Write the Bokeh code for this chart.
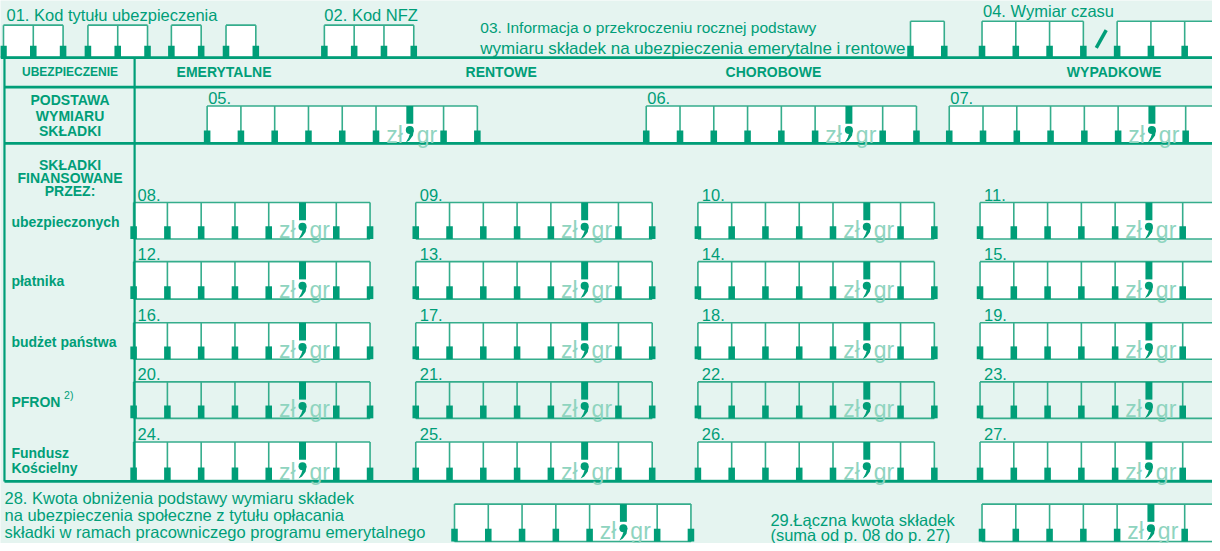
from bokeh.plotting import figure
from bokeh.models import Range1d
from bokeh.embed import file_html
from bokeh.resources import INLINE
from bokeh.core.properties import value

# ---------------- colours / font ----------------
BG = "#E5F4F0"
DARK = "#009E78"
LINE = "#35AD8C"
LIGHT = "#8FD4BF"
WHITE = "#FFFFFF"
FONT = "Liberation Sans"

# ---------------- form content ----------------
top_labels = ["01. Kod tytułu ubezpieczenia", "02. Kod NFZ", "04. Wymiar czasu"]
top_label_x = [6, 326, 989]
top_label_y = [15, 15, 11]
info_03 = ["03. Informacja o przekroczeniu rocznej podstawy",
           "wymiaru składek na ubezpieczenia emerytalne i rentowe"]
info_03_y = [27, 49]

top_group_x = [3, 88, 172, 227, 326, 916, 988, 1124]
top_group_cells = [2, 2, 1, 1, 3, 1, 3, 3]
top_group_cellw = [30, 30, 30, 30, 30, 34, 34, 34]
top_group_top = [25, 25, 25, 25, 25, 21, 21, 21]

column_headers = ["EMERYTALNE", "RENTOWE", "CHOROBOWE", "WYPADKOWE"]
column_header_x = [225, 504, 778, 1121]

basis_labels = ["05.", "06.", "07."]
basis_x = [208, 650, 955]

row_labels = ["ubezpieczonych", "płatnika", "budżet państwa", "PFRON", "Fundusz"]
row_label_y = [225, 285, 347, 407, 459]
grid_col_x = [134, 418, 702, 986]
grid_row_top = [205, 265, 327, 387, 448]
grid_row_bot = [242, 303, 364, 424, 487]
grid_row_white = [True, True, True, False, True]

text_28 = ["28. Kwota obniżenia podstawy wymiaru składek",
           "na ubezpieczenia społeczne z tytułu opłacania",
           "składki w ramach pracowniczego programu emerytalnego"]
text_28_y = [505, 522, 539]
text_29 = ["29.Łączna kwota składek", "(suma od p. 08 do p. 27)"]
text_29_y = [527, 542]
bottom_group_x = [457, 988]

CW = 34

# ---------------- figure ----------------
p = figure(width=1212, height=543, x_range=Range1d(0, 1220), y_range=Range1d(551, 0),
           output_backend="svg", toolbar_location=None, min_border=0,
           x_axis_location=None, y_axis_location=None)
p.grid.visible = False
p.outline_line_color = None
p.background_fill_color = BG
p.border_fill_color = BG

fill = dict(l=[], r=[], t=[], b=[], c=[])
thin = dict(x0=[], y0=[], x1=[], y1=[])
ticks = dict(l=[], r=[], t=[], b=[])
dots = dict(x=[], y=[])
tails = dict(xs=[], ys=[])
zl = dict(x=[], y=[])
gr = dict(x=[], y=[])


def add_fill(l, r, t, b, c):
    fill["l"].append(l); fill["r"].append(r); fill["t"].append(t); fill["b"].append(b); fill["c"].append(c)


def add_seg(x0, y0, x1, y1):
    thin["x0"].append(x0); thin["y0"].append(y0); thin["x1"].append(x1); thin["y1"].append(y1)


def add_tick(x, bot, h):
    ticks["l"].append(x - 3.3); ticks["r"].append(x + 3.3); ticks["t"].append(bot - h); ticks["b"].append(bot)


def box_group(x0, top, bot, n, cw, comma=None, white=True, th=13, tb=9):
    xs = [x0 + cw * i for i in range(n + 1)]
    add_fill(xs[0], xs[-1], top, bot, WHITE if white else BG)
    add_seg(xs[0], top, xs[-1], top)
    add_seg(xs[0], bot, xs[-1], bot)
    for i, x in enumerate(xs):
        if comma is not None and i == comma:
            ticks["l"].append(x - 3.5); ticks["r"].append(x + 3.5)
            ticks["t"].append(top); ticks["b"].append(top + 18)
            dots["x"].append(x); dots["y"].append(top + 24.5)
            tails["xs"].append([x + 4, x + 3.2, x - 0.5, x - 4, x - 1.2, x + 0.5])
            tails["ys"].append([top + 24.5, top + 30, top + 35, top + 37, top + 32, top + 27])
            zl["x"].append(x - 7); zl["y"].append(bot - tb)
            gr["x"].append(x + 7); gr["y"].append(bot - tb)
        else:
            add_seg(x, top, x, bot)
            add_tick(x, bot, th)


# top row groups
for gx, gn, gw, gt in zip(top_group_x, top_group_cells, top_group_cellw, top_group_top):
    box_group(gx, gt, 58, gn, gw, th=12)

# basis row (05-07)
for bx in basis_x:
    box_group(bx, 107, 145, 8, CW, comma=6)

# contributions grid (08-27)
for r in range(5):
    for c in range(4):
        box_group(grid_col_x[c], grid_row_top[r], grid_row_bot[r], 7, CW, comma=5,
                  white=grid_row_white[r])

# bottom groups 28, 29
for bx in bottom_group_x:
    box_group(bx, 511, 549, 7, CW, comma=5, tb=11)

p.quad(left=fill["l"], right=fill["r"], top=fill["t"], bottom=fill["b"],
       fill_color=fill["c"], line_color=None)
p.segment(x0=thin["x0"], y0=thin["y0"], x1=thin["x1"], y1=thin["y1"],
          line_color=LINE, line_width=1.6)

# table frame
p.segment(x0=[0, 4, 4, 4], y0=[58, 88, 145, 488], x1=[1220, 1220, 1220, 1220], y1=[58, 88, 145, 488],
          line_color=DARK, line_width=2.7)
p.segment(x0=[4, 135], y0=[58, 58], x1=[4, 135], y1=[488, 488], line_color=DARK, line_width=2.2)

p.quad(left=ticks["l"], right=ticks["r"], top=ticks["t"], bottom=ticks["b"],
       fill_color=DARK, line_color=None)
p.scatter(x=dots["x"], y=dots["y"], size=8, marker="circle", fill_color=DARK, line_color=None)
p.patches(xs=tails["xs"], ys=tails["ys"], fill_color=DARK, line_color=None)

# slash in 04
p.segment(x0=[1103], y0=[48], x1=[1113], y1=[30], line_color=DARK, line_width=3.5)

# zł / gr
p.text(x=zl["x"], y=zl["y"], text=["zł"] * len(zl["x"]), text_font=value(FONT), text_font_size="23px",
       text_color=LIGHT, text_align="right", text_baseline="alphabetic")
p.text(x=gr["x"], y=gr["y"], text=["gr"] * len(gr["x"]), text_font=value(FONT), text_font_size="23px",
       text_color=LIGHT, text_align="left", text_baseline="alphabetic")


def txt(xs, ys, texts, size, bold=False, align="left", color=DARK):
    p.text(x=xs, y=ys, text=texts, text_font=value(FONT), text_font_size=size,
           text_font_style="bold" if bold else "normal", text_color=color,
           text_align=align, text_baseline="middle")


# top texts
txt(top_label_x, top_label_y, top_labels, "16.5px")
txt([483], info_03_y[:1], info_03[:1], "15.5px")
txt([483], info_03_y[1:], info_03[1:], "17px")

# header row
txt([70], [73], ["UBEZPIECZENIE"], "12px", bold=True, align="center")
txt(column_header_x, [73] * 4, column_headers, "14px", bold=True, align="center")

# basis row
txt([70, 70, 70], [101, 117, 132], ["PODSTAWA", "WYMIARU", "SKŁADKI"], "14px", bold=True, align="center")
txt([x + 1 for x in basis_x], [99] * 3, basis_labels, "16.5px")

# contributions
txt([70, 70, 70], [167, 180, 193], ["SKŁADKI", "FINANSOWANE", "PRZEZ:"], "14px", bold=True, align="center")
txt([11] * 5 + [11], row_label_y + [474], row_labels + ["Kościelny"], "14px", bold=True)
txt([64], [400], ["2)"], "10.5px")
num_x, num_y, num_t = [], [], []
for r in range(5):
    for c in range(4):
        num_x.append(grid_col_x[c] + 4)
        num_y.append(grid_row_top[r] - 8)
        num_t.append("%02d." % (8 + 4 * r + c))
txt(num_x, num_y, num_t, "16.5px")

# bottom
txt([4] * 3, text_28_y, text_28, "16.5px")
txt([775] * 2, text_29_y, text_29, "16.5px")

open("out.html", "w").write(file_html(p, INLINE))
